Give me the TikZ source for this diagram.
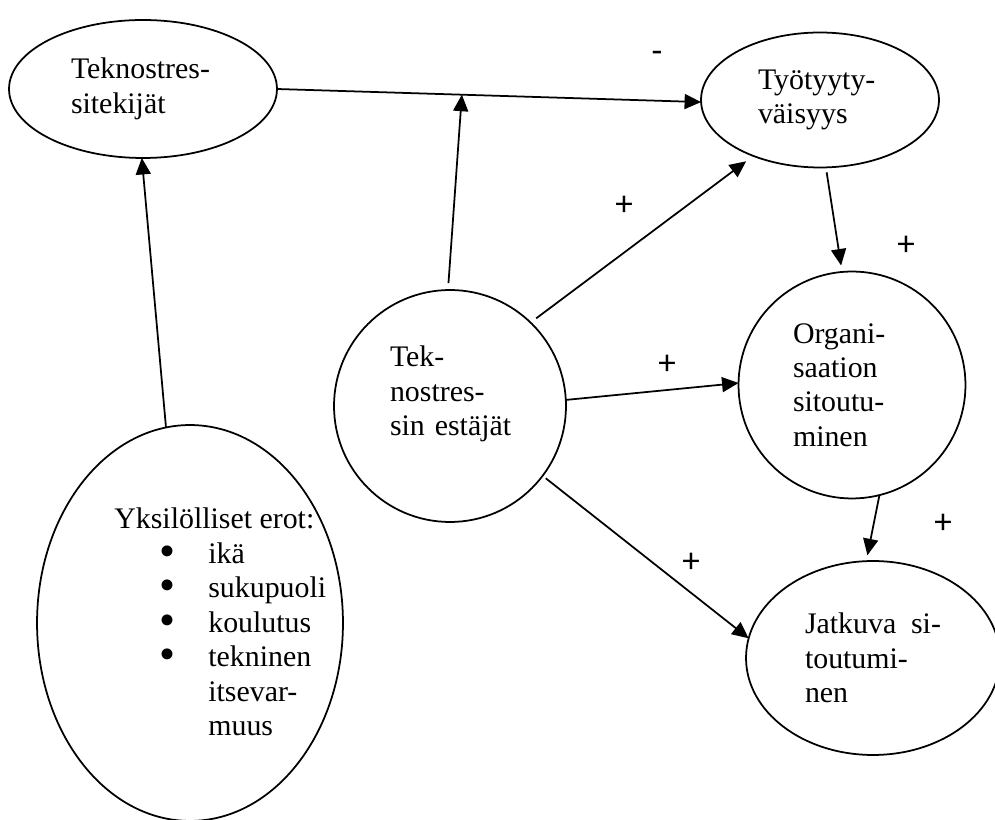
\documentclass[tikz,border=0pt]{standalone}
\usepackage{fontspec}
\setmainfont{Liberation Serif}
\newfontfamily\signfont{Carlito}
\usetikzlibrary{arrows.meta,shapes.geometric,positioning}
\newcommand{\bigdot}{\smash{\raisebox{-1.6pt}{\fontsize{26}{20}\selectfont\textbullet}}}

\begin{document}
\begin{tikzpicture}[x=0.02cm,y=-0.02cm]
\tikzstyle{main}=[ellipse, draw=black, line width=1pt, inner sep=0pt, outer sep=0pt, align=left, font=\fontsize{17}{19.6}\selectfont]
\tikzstyle{circ}=[main, circle]
\tikzstyle{txt}=[inner sep=0pt, align=left, font=\fontsize{17}{19.6}\selectfont]
\tikzstyle{sign}=[inner sep=0pt, font=\signfont\fontsize{20}{24}\selectfont]
\tikzstyle{connect}=[-{Triangle[length=0.33cm,width=0.3cm]}, line width=1pt]

  \useasboundingbox (0,0) rectangle (995,820);
  \clip (0,0) rectangle (995,820);

  \node[main, minimum width=5.36cm, minimum height=2.76cm, text width=2.88cm] (tek) at (143,89) {Teknostres-\\sitekijät};
  \node[main, minimum width=4.76cm, minimum height=2.70cm, text width=2.48cm] (tyo) at (820,100) {Työtyyty-\\väisyys};
  \node[circ, minimum size=4.64cm] (est) at (450,406) {};
  \node[txt, text width=2.6cm] (esttext) at (455,394) {Tek-\\nostres-\\\mbox{sin estäjät}};
  \node[circ, minimum size=4.54cm, text width=2.36cm] (org) at (852,385) {Organi-\\saation\\sitoutu-\\minen};
  \node[main, minimum width=5.08cm, minimum height=3.88cm, text width=2.72cm] (jat) at (873,658) {Jatkuva\hfill si-\\toutumi-\\nen};
  \node[main, minimum width=6.12cm, minimum height=7.92cm] (ind) at (190,623) {};
  \node[txt, anchor=west] (indtext) at (114,622) {Yksilölliset erot:\\
    \hspace*{0.9cm}\makebox[0.98cm][l]{\bigdot}ikä\\
    \hspace*{0.9cm}\makebox[0.98cm][l]{\bigdot}sukupuoli\\
    \hspace*{0.9cm}\makebox[0.98cm][l]{\bigdot}koulutus\\
    \hspace*{0.9cm}\makebox[0.98cm][l]{\bigdot}tekninen\\
    \hspace*{1.88cm}itsevar-\\
    \hspace*{1.88cm}muus};

  % arrows
  \draw[connect] (ind.97.5) -- (tek.269);
  \draw[connect] (tek.east) -- coordinate[pos=0.436] (modpt) (tyo.181);
  \draw[connect, shorten <=0.14cm] (est.91.4) -- (modpt);
  \draw[connect, shorten <=0.14cm, shorten >=0.18cm] (est.46.3) -- (tyo.220);
  \draw[connect] (est.3.5) -- (org.179);
  \draw[connect, shorten <=0.08cm] (est.323.8) -- (jat.171);
  \draw[connect, shorten <=0.1cm, shorten >=0.13cm] (tyo.275.6) -- (org.95.7);
  \draw[connect, shorten >=0.12cm] (org.284.5) -- (jat.94.4);

  % signs
  \node[sign] (minus) at (657,57)  {-};
  \node[sign] (plusa) at (624,206) {+};
  \node[sign] (plusb) at (906,246) {+};
  \node[sign] (plusc) at (667,365) {+};
  \node[sign] (plusd) at (691,563) {+};
  \node[sign] (pluse) at (943,524) {+};

\end{tikzpicture}
\end{document}
